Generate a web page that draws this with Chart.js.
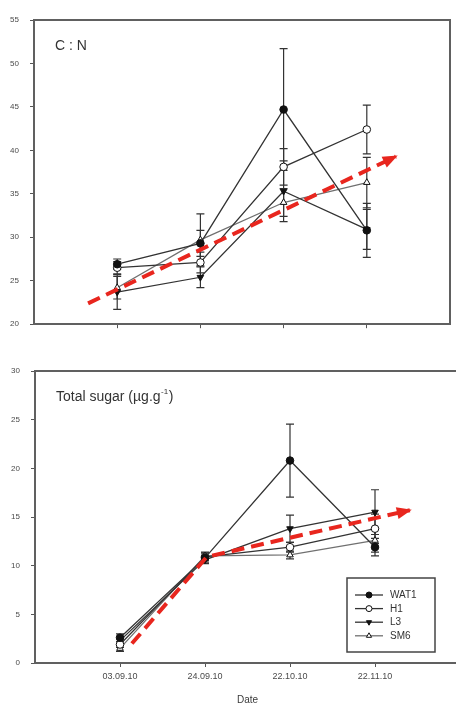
<!DOCTYPE html>
<html>
<head>
<meta charset="utf-8">
<script src="https://cdn.jsdelivr.net/npm/chart.js@4.4.1/dist/chart.umd.min.js"></script>
<style>
  html, body { margin: 0; padding: 0; background: #fff; width: 456px; height: 706px; overflow: hidden; }
  #cnChart { position: absolute; left: 0; top: 0; }
  #sugarChart { position: absolute; left: 0; top: 340px; }
</style>
</head>
<body>
<canvas id="cnChart" width="456" height="340"></canvas>
<canvas id="sugarChart" width="466" height="366"></canvas>
<script>
// =====================
// DATA
// =====================

const dates = ["03.09.10", "24.09.10", "22.10.10", "22.11.10"];
const datePos = [1, 2, 3, 4];
const seriesNames = ["WAT1", "H1", "L3", "SM6"];

// C : N
const cnTicks = [20, 25, 30, 35, 40, 45, 50, 55];
const cnWAT1 = [26.9, 29.3, 44.7, 30.8];
const cnH1   = [26.5, 27.1, 38.1, 42.4];
const cnL3   = [23.7, 25.4, 35.3, 30.9];
const cnSM6  = [24.2, 29.7, 34.0, 36.3];
const cnErrWAT1 = [0.6, 1.5, 7.0, 3.1];
const cnErrH1   = [0.7, 1.2, 2.1, 2.8];
const cnErrL3   = [2.0, 1.2, 3.5, 2.3];
const cnErrSM6  = [1.3, 3.0, 1.6, 2.9];
const cnTrendX = [0.65, 4.35];
const cnTrendY = [22.4, 39.3];

// Total sugar
const sugarTicks = [0, 5, 10, 15, 20, 25, 30];
const sugarWAT1 = [2.6, 10.8, 20.8, 11.9];
const sugarH1   = [1.9, 10.9, 11.9, 13.8];
const sugarL3   = [2.3, 10.6, 13.8, 15.5];
const sugarSM6  = [1.5, 11.0, 11.1, 12.6];
const sugarErrWAT1 = [0.4, 0.5, 3.75, 0.9];
const sugarErrH1   = [0.3, 0.4, 0.5, 1.5];
const sugarErrL3   = [0.4, 0.4, 1.4, 2.3];
const sugarErrSM6  = [0.3, 0.4, 0.4, 1.2];
const sugarTrendX = [1.14, 2.02, 4.41];
const sugarTrendY = [2.0, 10.9, 15.7];


// =====================
// STYLES
// =====================

const FONT = 'Arial, "Liberation Sans", sans-serif';
const AXIS = "#606060";
const TREND = "#e8261e";

const markers = {
  WAT1: { pointStyle: "circle",   bg: "#111", rotation: 0,   line: "#333" },
  H1:   { pointStyle: "circle",   bg: "#fff", rotation: 0,   line: "#333" },
  L3:   { pointStyle: "triangle", bg: "#111", rotation: 180, line: "#333" },
  SM6:  { pointStyle: "triangle", bg: "#fff", rotation: 0,   line: "#707070" }
};

function lineSet(name, vals) {
  const m = markers[name];
  return {
    label: name,
    data: vals.map((v, i) => ({ x: datePos[i], y: v })),
    borderColor: m.line,
    borderWidth: 1.3,
    pointStyle: m.pointStyle,
    pointRotation: m.rotation,
    pointRadius: 3.8,
    pointBackgroundColor: m.bg,
    pointBorderColor: "#111",
    pointBorderWidth: 1,
    tension: 0,
    order: 2
  };
}

function trendSet(xs, ys) {
  return {
    label: "trend",
    data: xs.map((x, i) => ({ x: x, y: ys[i] })),
    borderColor: TREND,
    borderWidth: 4,
    borderDash: [13, 7],
    pointRadius: 0,
    tension: 0,
    order: 1
  };
}


// =====================
// PLUGINS
// =====================

function errorBars(sets) {
  return {
    id: "errorBars",
    beforeDatasetsDraw(chart) {
      const { ctx, scales: { x, y } } = chart;
      ctx.save();
      ctx.strokeStyle = "#333";
      ctx.lineWidth = 1.2;
      sets.forEach(s => s.vals.forEach((v, i) => {
        const px = x.getPixelForValue(datePos[i]);
        const hi = y.getPixelForValue(v + s.err[i]);
        const lo = y.getPixelForValue(v - s.err[i]);
        ctx.beginPath();
        ctx.moveTo(px, hi); ctx.lineTo(px, lo);
        ctx.moveTo(px - 4, hi); ctx.lineTo(px + 4, hi);
        ctx.moveTo(px - 4, lo); ctx.lineTo(px + 4, lo);
        ctx.stroke();
      }));
      ctx.restore();
    }
  };
}

const arrowHead = {
  id: "arrowHead",
  afterDatasetsDraw(chart) {
    const ctx = chart.ctx;
    chart.data.datasets.forEach((ds, di) => {
      if (ds.label !== "trend") return;
      const pts = chart.getDatasetMeta(di).data;
      const a = pts[pts.length - 2], b = pts[pts.length - 1];
      const ang = Math.atan2(b.y - a.y, b.x - a.x);
      const len = 13, half = 6;
      ctx.save();
      ctx.translate(b.x, b.y);
      ctx.rotate(ang);
      ctx.fillStyle = TREND;
      ctx.beginPath();
      ctx.moveTo(2, 0);
      ctx.lineTo(-len, -half);
      ctx.lineTo(-len, half);
      ctx.closePath();
      ctx.fill();
      ctx.restore();
    });
  }
};

function frame(full) {
  return {
    id: "frame",
    afterDraw(chart) {
      const { ctx, chartArea: a } = chart;
      ctx.save();
      ctx.strokeStyle = AXIS;
      ctx.lineWidth = 2;
      ctx.beginPath();
      ctx.moveTo(a.left - 1, a.top);
      ctx.lineTo(a.right + (full ? 1 : 20), a.top);
      if (full) {
        ctx.moveTo(a.right, a.top);
        ctx.lineTo(a.right, a.bottom);
      }
      ctx.stroke();
      ctx.restore();
    }
  };
}

function panelLabel(text, sup, tail) {
  return {
    id: "panelLabel",
    afterDraw(chart) {
      const { ctx, chartArea: a } = chart;
      ctx.save();
      ctx.fillStyle = "#333";
      ctx.textBaseline = "alphabetic";
      ctx.font = "14px " + FONT;
      let x = a.left + 21;
      const y = a.top + 30;
      ctx.fillText(text, x, y);
      if (sup) {
        x += ctx.measureText(text).width;
        ctx.font = "8px " + FONT;
        ctx.fillText(sup, x + 0.5, y - 7);
        x += ctx.measureText(sup).width + 1;
        ctx.font = "14px " + FONT;
        ctx.fillText(tail, x, y);
      }
      ctx.restore();
    }
  };
}

const boxLegend = {
  id: "boxLegend",
  afterDraw(chart) {
    const ctx = chart.ctx;
    const left = 347, top = 238, w = 88, h = 74;
    ctx.save();
    ctx.fillStyle = "#fff";
    ctx.fillRect(left, top, w, h);
    ctx.strokeStyle = "#444";
    ctx.lineWidth = 1.5;
    ctx.strokeRect(left, top, w, h);
    ctx.font = "10px " + FONT;
    ctx.textBaseline = "middle";
    seriesNames.forEach((name, i) => {
      const m = markers[name];
      const y = top + 17 + i * 13.6;
      ctx.strokeStyle = m.line;
      ctx.lineWidth = 1.3;
      ctx.beginPath();
      ctx.moveTo(left + 8, y);
      ctx.lineTo(left + 36, y);
      ctx.stroke();
      ctx.fillStyle = m.bg;
      ctx.strokeStyle = "#111";
      ctx.lineWidth = 1;
      Chart.helpers.drawPoint(ctx, { pointStyle: m.pointStyle, rotation: m.rotation, radius: 3, borderWidth: 1 }, left + 22, y);
      ctx.fillStyle = "#333";
      ctx.fillText(name, left + 43, y + 0.5);
    });
    ctx.restore();
  }
};


// =====================
// CHARTS
// =====================

function axes(yMin, yMax, yTicks, yWidth, showDates, xHeight) {
  return {
    x: {
      type: "linear",
      min: 0,
      max: 5,
      afterBuildTicks: s => { s.ticks = datePos.map(v => ({ value: v })); },
      afterFit: s => { s.height = xHeight; },
      ticks: {
        display: showDates,
        callback: v => dates[v - 1],
        font: { size: 9, family: FONT },
        color: "#4a4a4a",
        padding: 4,
        maxRotation: 0
      },
      title: {
        display: showDates,
        text: "Date",
        font: { size: 10, family: FONT },
        color: "#3a3a3a",
        padding: { top: 8, bottom: 0 }
      },
      grid: { drawOnChartArea: false, tickLength: 4, color: "#555" },
      border: { color: AXIS, width: 2 }
    },
    y: {
      min: yMin,
      max: yMax,
      afterBuildTicks: s => { s.ticks = yTicks.map(v => ({ value: v })); },
      afterFit: s => { s.width = yWidth; },
      ticks: {
        font: { size: 8, family: FONT },
        color: "#4a4a4a",
        padding: 11
      },
      grid: { drawOnChartArea: false, tickLength: 4, color: "#555" },
      border: { color: AXIS, width: 2 }
    }
  };
}

const common = {
  responsive: false,
  animation: false,
  events: [],
  plugins: { legend: { display: false }, tooltip: { enabled: false } }
};

new Chart(document.getElementById("cnChart"), {
  type: "line",
  data: {
    datasets: [
      lineSet("WAT1", cnWAT1),
      lineSet("H1", cnH1),
      lineSet("L3", cnL3),
      lineSet("SM6", cnSM6),
      trendSet(cnTrendX, cnTrendY)
    ]
  },
  options: Object.assign({}, common, {
    layout: { padding: { top: 20, right: 6, left: 0, bottom: 0 } },
    scales: axes(20, 55, cnTicks, 34, false, 15)
  }),
  plugins: [
    errorBars([
      { vals: cnWAT1, err: cnErrWAT1 },
      { vals: cnH1, err: cnErrH1 },
      { vals: cnL3, err: cnErrL3 },
      { vals: cnSM6, err: cnErrSM6 }
    ]),
    arrowHead,
    frame(true),
    panelLabel("C : N")
  ]
});

new Chart(document.getElementById("sugarChart"), {
  type: "line",
  data: {
    datasets: [
      lineSet("WAT1", sugarWAT1),
      lineSet("H1", sugarH1),
      lineSet("L3", sugarL3),
      lineSet("SM6", sugarSM6),
      trendSet(sugarTrendX, sugarTrendY)
    ]
  },
  options: Object.assign({}, common, {
    layout: { padding: { top: 31, right: 6, left: 0, bottom: 0 } },
    scales: axes(0, 30, sugarTicks, 35, true, 43)
  }),
  plugins: [
    errorBars([
      { vals: sugarWAT1, err: sugarErrWAT1 },
      { vals: sugarH1, err: sugarErrH1 },
      { vals: sugarL3, err: sugarErrL3 },
      { vals: sugarSM6, err: sugarErrSM6 }
    ]),
    arrowHead,
    frame(false),
    panelLabel("Total sugar (µg.g", "-1", ")"),
    boxLegend
  ]
});
</script>
</body>
</html>
